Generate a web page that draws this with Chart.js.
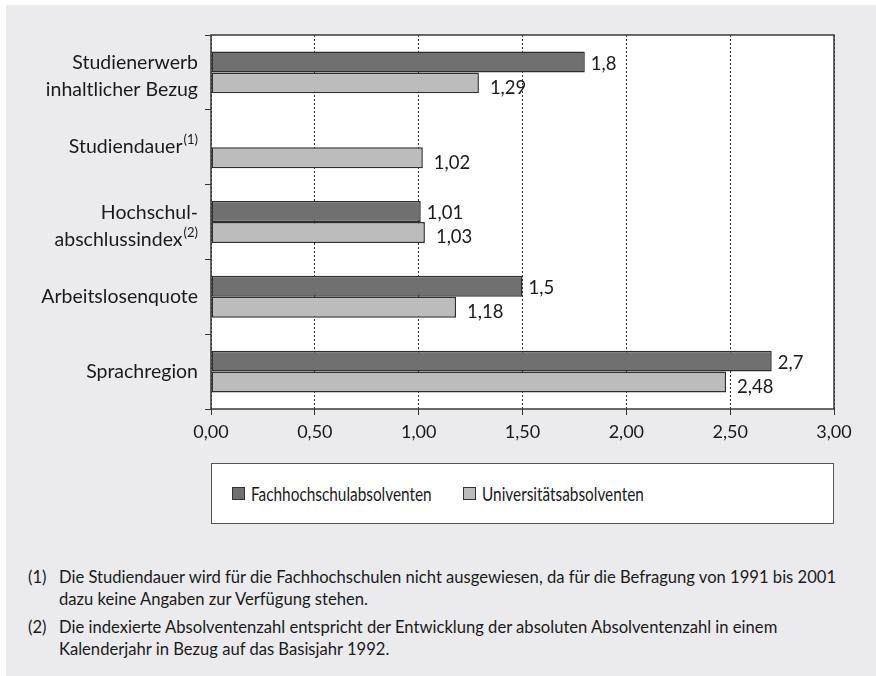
<!DOCTYPE html>
<html>
<head>
<meta charset="utf-8">
<script src="https://cdn.jsdelivr.net/npm/chart.js@4.4.1/dist/chart.umd.min.js"></script>
<style>
  html, body { margin: 0; padding: 0; background: #fff; }
  body { width: 876px; height: 676px; position: relative; overflow: hidden; font-family: Lato, 'Liberation Sans', sans-serif; color: #1a1a1a; }
  #panel { position: absolute; left: 6px; top: 5px; right: 0; bottom: 0; background: #ebebed; }
  #chart { position: absolute; left: 0; top: 0; }
  #legend { position: absolute; left: 211px; top: 463px; width: 621px; height: 59px; background: #fff; border: 1.5px solid #555; font-size: 18.5px; }
  .item { position: absolute; top: 0; height: 59px; display: flex; align-items: center; }
  .swatch { width: 11px; height: 11px; border: 1.2px solid #333; margin-right: 6px; }
  .item .txt { display: inline-block; transform: scaleX(0.83); transform-origin: left center; white-space: nowrap; }
  .notes { position: absolute; left: 28px; top: 566px; font-size: 16.6px; line-height: 22px; }
  .note { display: flex; margin-bottom: 6px; }
  .note .n { width: 31px; flex: none; }
</style>
</head>
<body>
<div id="panel"></div>
<canvas id="chart" width="876" height="455"></canvas>
<div id="legend"></div>
<div class="notes">
  <div class="note"><span class="n">(1)</span><span>Die Studiendauer wird für die Fachhochschulen nicht ausgewiesen, da für die Befragung von 1991 bis 2001<br>dazu keine Angaben zur Verfügung stehen.</span></div>
  <div class="note"><span class="n">(2)</span><span>Die indexierte Absolventenzahl entspricht der Entwicklung der absoluten Absolventenzahl in einem<br>Kalenderjahr in Bezug auf das Basisjahr 1992.</span></div>
</div>
<script>
// ─── Data ─────────────────────────────────────────────────────────────────────
const categories = [
    ['Studienerwerb', 'inhaltlicher Bezug'],
    ['Studiendauer'],
    ['Hochschul-', 'abschlussindex'],
    ['Arbeitslosenquote'],
    ['Sprachregion'],
];
const categoryNotes = ['', '(1)', '(2)', '', ''];
const seriesNames = ['Fachhochschulabsolventen', 'Universitätsabsolventen'];
const fhValues = [1.8, null, 1.01, 1.5, 2.7];
const uniValues = [1.29, 1.02, 1.03, 1.18, 2.48];
const xMin = 0, xMax = 3, xStep = 0.5;

const FONT = "Lato, 'Liberation Sans', sans-serif";
const COLORS = { fh: '#707070', uni: '#bcbcbc', edge: '#2e2e2e', ink: '#1a1a1a' };

const fmt = v => String(v).replace('.', ',');

// ─── Plugins ──────────────────────────────────────────────────────────────────
const plotFrame = {
    id: 'plotFrame',
    beforeDraw(chart) {
        const { ctx, chartArea: a } = chart;
        ctx.save();
        ctx.fillStyle = '#fff';
        ctx.fillRect(a.left, a.top, a.right - a.left, a.bottom - a.top);
        ctx.restore();
    },
    afterDraw(chart) {
        const { ctx, chartArea: a } = chart;
        ctx.save();
        ctx.strokeStyle = '#3a3a3a';
        ctx.lineWidth = 1.5;
        ctx.strokeRect(a.left, a.top, a.right - a.left, a.bottom - a.top);
        ctx.restore();
    }
};

// category labels with raised footnote marks, placed on the y scale
const categoryLabels = {
    id: 'categoryLabels',
    afterDraw(chart) {
        const { ctx } = chart;
        const y = chart.scales.y;
        const right = y.right - 13;
        const lineH = 27;
        ctx.save();
        ctx.fillStyle = COLORS.ink;
        ctx.textBaseline = 'middle';
        chart.data.labels.forEach((lines, i) => {
            const cy = y.getPixelForValue(i) + (lines.length > 1 ? 4 : 0);
            const note = categoryNotes[i];
            ctx.font = `13px ${FONT}`;
            const noteW = note ? ctx.measureText(note).width + 1 : 0;
            lines.forEach((line, k) => {
                const ly = cy + (k - (lines.length - 1) / 2) * lineH;
                const last = k === lines.length - 1;
                ctx.font = `19.5px ${FONT}`;
                ctx.textAlign = 'right';
                ctx.fillText(line, right - (last ? noteW : 0), ly);
                if (last && note) {
                    ctx.font = `13px ${FONT}`;
                    ctx.textAlign = 'left';
                    ctx.fillText(note, right - noteW + 1, ly - 7);
                }
            });
        });
        ctx.restore();
    }
};

const valueLabels = {
    id: 'valueLabels',
    afterDatasetsDraw(chart) {
        const { ctx } = chart;
        ctx.save();
        ctx.font = `18.5px ${FONT}`;
        ctx.fillStyle = COLORS.ink;
        ctx.textBaseline = 'middle';
        chart.data.datasets.forEach((ds, di) => {
            const meta = chart.getDatasetMeta(di);
            const dx = di === 0 ? 6 : 11;
            const dy = di === 0 ? 2 : 5;
            meta.data.forEach((bar, i) => {
                const v = ds.data[i];
                if (v == null) return;
                ctx.fillText(fmt(v), bar.x + dx, bar.y + dy);
            });
        });
        ctx.restore();
    }
};

// ─── Chart ────────────────────────────────────────────────────────────────────
const ctx = document.getElementById('chart').getContext('2d');
const chart = new Chart(ctx, {
    type: 'bar',
    data: {
        labels: categories,
        datasets: [
            { label: seriesNames[0], data: fhValues, backgroundColor: COLORS.fh, borderColor: COLORS.edge, borderWidth: 1.5, borderSkipped: false },
            { label: seriesNames[1], data: uniValues, backgroundColor: COLORS.uni, borderColor: COLORS.edge, borderWidth: 1.5, borderSkipped: false },
        ]
    },
    options: {
        indexAxis: 'y',
        responsive: false,
        devicePixelRatio: 1,
        animation: false,
        datasets: { bar: { categoryPercentage: 0.56, barPercentage: 1.0 } },
        layout: { padding: { top: 35, right: 42, left: 0, bottom: 0 } },
        scales: {
            x: {
                min: xMin, max: xMax,
                afterFit: s => { s.height = 46; },
                ticks: {
                    stepSize: xStep,
                    color: COLORS.ink,
                    font: { family: FONT, size: 18 },
                    padding: 6,
                    callback: v => v.toFixed(2).replace('.', ','),
                },
                grid: { color: '#333', lineWidth: 1, borderDash: [2, 2], tickLength: 6, tickColor: '#333', tickBorderDash: [] },
                border: { display: false, dash: [2, 2] },
            },
            y: {
                afterFit: s => { s.width = 211; },
                ticks: { display: false },
                grid: { offset: true, drawOnChartArea: false, drawTicks: true, tickLength: 6, tickColor: '#333', color: '#333' },
                border: { display: false },
            }
        },
        plugins: {
            legend: { display: false },
            tooltip: { enabled: false },
        }
    },
    plugins: [plotFrame, categoryLabels, valueLabels]
});

// ─── HTML legend (boxed) ──────────────────────────────────────────────────────
const legend = document.getElementById('legend');
const legendX = [20, 251];
chart.data.datasets.forEach((ds, i) => {
    const item = document.createElement('div');
    item.className = 'item';
    item.style.left = legendX[i] + 'px';
    item.innerHTML = `<span class="swatch" style="background:${ds.backgroundColor}"></span><span class="txt">${ds.label}</span>`;
    legend.appendChild(item);
});
</script>
</body>
</html>
